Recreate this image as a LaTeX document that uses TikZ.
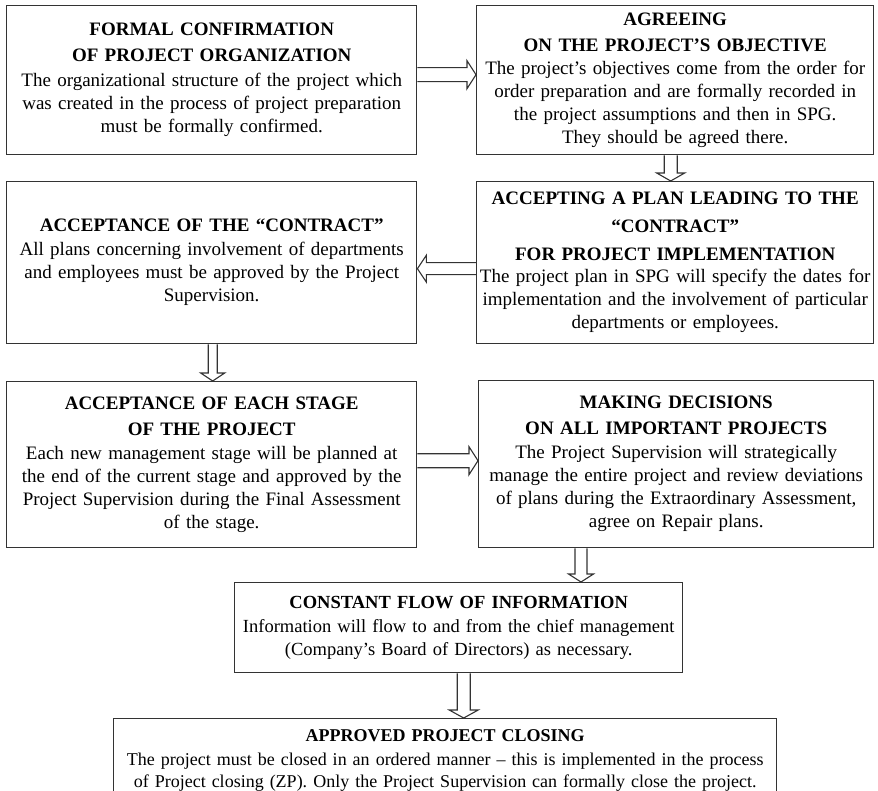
\documentclass[tikz,border=0pt]{standalone}
\usepackage{fontspec}
\setmainfont{Liberation Serif}
\usetikzlibrary{calc}

% hollow block arrows running from a start point to an end point
\newcommand\fatright[2]{\draw[fat] let \p1=(#1), \p2=(#2) in
  (\x1,\y1+7pt) -- (\x2-9pt,\y1+7pt) -- (\x2-9pt,\y1+14pt) -- (\x2,\y1)
  -- (\x2-9pt,\y1-14pt) -- (\x2-9pt,\y1-7pt) -- (\x1,\y1-7pt);}
\newcommand\fatleft[2]{\draw[fat] let \p1=(#1), \p2=(#2) in
  (\x1,\y1+6pt) -- (\x2+9pt,\y1+6pt) -- (\x2+9pt,\y1+13.5pt) -- (\x2,\y1)
  -- (\x2+9pt,\y1-13.5pt) -- (\x2+9pt,\y1-6pt) -- (\x1,\y1-6pt);}
\newcommand\fatdown[4]{% start, end, shaft half width, head half width
  \draw[fat] let \p1=(#1), \p2=(#2) in
  (\x1-#3,\y1) -- (\x1-#3,\y2+8pt) -- (\x1-#4,\y2+8pt) -- (\x1,\y2)
  -- (\x1+#4,\y2+8pt) -- (\x1+#3,\y2+8pt) -- (\x1+#3,\y1);}

\tikzset{
  box/.style={draw=black!80, line width=1.4pt, rectangle, anchor=north west,
    align=center, inner xsep=3pt, inner ysep=0pt,
    font=\fontsize{19}{23}\selectfont},
  fat/.style={draw=black!80, line width=1.1pt, line join=miter},
}

\begin{document}
\begin{tikzpicture}[x=1pt,y=-1pt]
\useasboundingbox (0,0) rectangle (878,791);
\clip (0,0) rectangle (878,791);

\node[box, text width=404pt, minimum height=149pt] (b1) at (6,5)
  {\textbf{FORMAL CONFIRMATION}\\[3pt]
   \textbf{OF PROJECT ORGANIZATION}\\[2pt]
   The organizational structure of the project which\\
   was created in the process of project preparation\\
   must be formally confirmed.};

\node[box, text width=391pt, minimum height=149pt] (b2) at (476,5)
  {\textbf{AGREEING}\\[3pt]
   \textbf{ON THE PROJECT’S OBJECTIVE}\\[0pt]
   The project’s objectives come from the order for\\
   order preparation and are formally recorded in\\
   the project assumptions and then in SPG.\\
   They should be agreed there.};

\node[box, text width=404pt, minimum height=162pt] (b3) at (6,181)
  {\textbf{ACCEPTANCE OF THE “CONTRACT”}\\[1pt]
   All plans concerning involvement of departments\\
   and employees must be approved by the Project\\
   Supervision.};

\node[box, text width=391pt, minimum height=162pt] (b4) at (476,181)
  {\textbf{ACCEPTING A PLAN LEADING TO THE}\\[5pt]
   \textbf{“CONTRACT”}\\[5pt]
   \textbf{FOR PROJECT IMPLEMENTATION}\\[-1pt]
   The project plan in SPG will specify the dates for\\
   implementation and the involvement of particular\\
   departments or employees.};

\node[box, text width=404pt, minimum height=166pt] (b5) at (6,381)
  {\textbf{ACCEPTANCE OF EACH STAGE}\\[3pt]
   \textbf{OF THE PROJECT}\\[1pt]
   Each new management stage will be planned at\\
   the end of the current stage and approved by the\\
   Project Supervision during the Final Assessment\\
   of the stage.};

\node[box, text width=389pt, minimum height=167pt] (b6) at (478,380)
  {\textbf{MAKING DECISIONS}\\[3pt]
   \textbf{ON ALL IMPORTANT PROJECTS}\\[1pt]
   The Project Supervision will strategically\\
   manage the entire project and review deviations\\
   of plans during the Extraordinary Assessment,\\
   agree on Repair plans.};

\node[box, text width=442pt, minimum height=90pt,
      font=\fontsize{18.5}{23}\selectfont] (b7) at (234,582)
  {\textbf{CONSTANT FLOW OF INFORMATION}\\[1pt]
   Information will flow to and from the chief management\\
   (Company’s Board of Directors) as necessary.};

\node[box, text width=657pt, minimum height=84pt,
      font=\fontsize{18}{22.5}\selectfont] (b8) at (113,718)
  {\textbf{APPROVED PROJECT CLOSING}\\[1pt]
   The project must be closed in an ordered manner – this is implemented in the process\\
   of Project closing (ZP). Only the Project Supervision can formally close the project.};

% connectors
\coordinate (s12) at ($(b1.east)+(0,-5.5)$);
\fatright{s12}{s12 -| b2.west}
\coordinate (s24) at ($(b2.south)+(-4.5,0)$);
\fatdown{s24}{s24 |- b4.north}{6.5pt}{14pt}
\coordinate (s43) at ($(b4.west)+(0,6)$);
\fatleft{s43}{s43 -| b3.east}
\coordinate (s35) at ($(b3.south)+(1,0)$);
\fatdown{s35}{s35 |- b5.north}{4.5pt}{12pt}
\coordinate (s56) at ($(b5.east)+(0,-4)$);
\fatright{s56}{s56 -| b6.west}
\coordinate (s67) at ($(b6.south west)+(103,0)$);
\fatdown{s67}{s67 |- b7.north}{6pt}{12.5pt}
\coordinate (s78) at ($(b7.south)+(5,0)$);
\fatdown{s78}{s78 |- b8.north}{6.5pt}{14.5pt}
\end{tikzpicture}
\end{document}
